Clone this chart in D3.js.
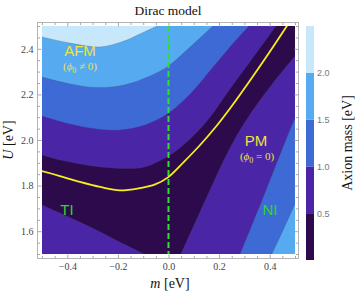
<!DOCTYPE html>
<html><head><meta charset="utf-8">
<script src="https://cdn.jsdelivr.net/npm/d3@7"></script>
<style>body{margin:0;background:#fff}svg{display:block}</style>
</head><body><svg id="c" width="359" height="294"></svg>
<script>
// ---------- data, [m, U] pairs ----------
const levels = [0, 0.5, 1.0, 1.5, 2.0, 2.5];
const bandColors = ["#2c0a4c", "#4a26a6", "#3e6ad6", "#56aaf0", "#c6e8fa"];
const cbTicks = [0.5, 1.0, 1.5, 2.0];
const xMajor = [-0.4, -0.2, 0.0, 0.2, 0.4];
const yMajor = [1.6, 1.8, 2.0, 2.2, 2.4];

// level 2.0 contour (upper left)
const c20Upper = [[-0.5,2.452],[-0.389,2.425],[-0.271,2.408],[-0.176,2.434],[-0.113,2.465],[-0.045,2.5]];
// level 1.5 contours
const c15Upper = [[-0.5,2.276],[-0.389,2.246],[-0.283,2.230],[-0.176,2.241],[-0.073,2.281],[0,2.325],[0.077,2.399],[0.124,2.447],[0.176,2.5]];
const c15Right = [[0.409,1.5],[0.453,1.605],[0.5,1.719]];
// level 1.0 contours
const c10Upper = [[-0.5,2.105],[-0.389,2.070],[-0.283,2.048],[-0.192,2.044],[-0.093,2.066],[0,2.118],[0.093,2.211],[0.176,2.320],[0.243,2.408],[0.318,2.5]];
const c10Right = [[0.283,1.5],[0.370,1.737],[0.464,2.0],[0.5,2.096]];
// level 0.5 contours
const c05Upper = [[-0.5,1.934],[-0.429,1.912],[-0.35,1.895],[-0.271,1.882],[-0.168,1.875],[-0.093,1.882],[0,1.930],[0.077,1.996],[0.152,2.083],[0.235,2.211],[0.330,2.355],[0.425,2.5]];
const c05Lower = [[-0.5,1.715],[-0.35,1.640],[-0.231,1.575],[-0.168,1.539],[-0.097,1.5]];
const c05Right = [[0.049,1.5],[0.164,1.781],[0.219,1.912],[0.271,2.022],[0.334,2.132],[0.413,2.250],[0.5,2.368]];
// phase boundary (yellow)
const phaseLine = [[-0.5,1.864],[-0.429,1.842],[-0.35,1.816],[-0.271,1.794],[-0.192,1.779],[-0.113,1.789],[-0.053,1.805],[-0.002,1.836],[0.061,1.904],[0.125,1.978],[0.188,2.059],[0.251,2.150],[0.314,2.248],[0.393,2.375],[0.472,2.507]];

// ---------- scales ----------
const svg = d3.select('#c');
const x = d3.scaleLinear().domain([-0.5, 0.5]).range([42, 295]);
const y = d3.scaleLinear().domain([1.5, 2.5]).range([254, 26]);
const yc = d3.scaleLinear().domain([0, 2.5]).range([260, 26]);
const [m0, m1] = x.domain(), [u0, u1] = y.domain();

svg.append('rect').attr('width', 359).attr('height', 294).attr('fill', '#fff');

const defs = svg.append('defs');
defs.append('clipPath').attr('id', 'pc').append('rect')
  .attr('x', x(m0)).attr('y', y(u1)).attr('width', x(m1) - x(m0)).attr('height', y(u0) - y(u1));

const plot = svg.append('g').attr('clip-path', 'url(#pc)');
plot.append('rect').attr('x', x(m0)).attr('y', y(u1)).attr('width', x(m1) - x(m0)).attr('height', y(u0) - y(u1))
  .attr('fill', bandColors[0]);

const line = d3.line().x(d => x(d[0])).y(d => y(d[1])).curve(d3.curveCatmullRom.alpha(0.5));

const regions = [
  {pts: c05Upper, corner: [m0, u1], band: 1},
  {pts: c05Lower, corner: [m0, u0], band: 1},
  {pts: c05Right, corner: [m1, u0], band: 1},
  {pts: c10Upper, corner: [m0, u1], band: 2},
  {pts: c10Right, corner: [m1, u0], band: 2},
  {pts: c15Upper, corner: [m0, u1], band: 3},
  {pts: c15Right, corner: [m1, u0], band: 3},
  {pts: c20Upper, corner: [m0, u1], band: 4}
];
regions.forEach(r => {
  plot.append('path')
    .attr('d', line(r.pts) + 'L' + x(r.corner[0]) + ',' + y(r.corner[1]) + 'Z')
    .attr('fill', bandColors[r.band]);
});
regions.forEach(r => {
  plot.append('path').attr('d', line(r.pts)).attr('fill', 'none')
    .attr('stroke', 'rgba(70,70,90,0.35)').attr('stroke-width', 0.7);
});

// m = 0 dashed line
plot.append('line').attr('x1', x(0)).attr('x2', x(0)).attr('y1', y(u1)).attr('y2', y(u0))
  .attr('stroke', '#2ee02e').attr('stroke-width', 2).attr('stroke-dasharray', '6,3');

// phase boundary
plot.append('path').attr('d', line(phaseLine)).attr('fill', 'none')
  .attr('stroke', '#f7ef1c').attr('stroke-width', 1.8);

// ---------- frame & ticks ----------
const fL = 37.5, fR = 298.5, fT = 22.5, fB = 258.5;
svg.append('rect').attr('x', fL).attr('y', fT).attr('width', fR - fL).attr('height', fB - fT)
  .attr('fill', 'none').attr('stroke', '#b4b4b4').attr('stroke-width', 1);

const xMinor = d3.range(-10, 11).map(i => i * 0.05).filter(v => !xMajor.some(M => Math.abs(M - v) < 1e-6));
const yMinor = d3.range(30, 51).map(i => i * 0.05).filter(v => !yMajor.some(M => Math.abs(M - v) < 1e-6));
const fmt = d3.format('.1f');

function styleAxis(g) {
  g.select('.domain').remove();
  g.selectAll('line').attr('stroke', '#a8a8a8');
  g.selectAll('text').attr('font-family', '"Liberation Serif", "Times New Roman", serif')
    .attr('font-size', 10).attr('fill', '#444');
}
function addAxis(axisFn, scale, vals, pos, len, labels) {
  const a = axisFn(scale).tickValues(vals).tickSizeInner(-len).tickSizeOuter(0).tickPadding(4)
    .tickFormat(labels ? fmt : '');
  const g = svg.append('g').attr('transform', pos).call(a);
  styleAxis(g);
}
addAxis(d3.axisBottom, x, xMajor, `translate(0,${fB})`, 4, true);
addAxis(d3.axisBottom, x, xMinor, `translate(0,${fB})`, 2.5, false);
addAxis(d3.axisTop, x, xMajor, `translate(0,${fT})`, 4, false);
addAxis(d3.axisTop, x, xMinor, `translate(0,${fT})`, 2.5, false);
addAxis(d3.axisLeft, y, yMajor, `translate(${fL},0)`, 4, true);
addAxis(d3.axisLeft, y, yMinor, `translate(${fL},0)`, 2.5, false);
addAxis(d3.axisRight, y, yMajor, `translate(${fR},0)`, 4, false);
addAxis(d3.axisRight, y, yMinor, `translate(${fR},0)`, 2.5, false);

// ---------- titles ----------
const serif = '"Liberation Serif", "Times New Roman", serif';
const sans = '"Liberation Sans", Arial, sans-serif';
svg.append('text').attr('x', 168).attr('y', 15).attr('text-anchor', 'middle')
  .attr('font-family', serif).attr('font-size', 13.5).attr('fill', '#111').text('Dirac model');

const xl = svg.append('text').attr('x', 170).attr('y', 288).attr('text-anchor', 'middle')
  .attr('font-family', serif).attr('font-size', 14).attr('fill', '#111');
xl.append('tspan').attr('font-style', 'italic').text('m');
xl.append('tspan').text(' [eV]');

const yl = svg.append('text').attr('transform', 'translate(13,140) rotate(-90)').attr('text-anchor', 'middle')
  .attr('font-family', serif).attr('font-size', 14).attr('fill', '#111');
yl.append('tspan').attr('font-style', 'italic').text('U');
yl.append('tspan').text(' [eV]');

// ---------- colorbar ----------
const cb = svg.append('g');
d3.range(bandColors.length).forEach(i => {
  cb.append('rect').attr('x', 306).attr('width', 8)
    .attr('y', yc(levels[i + 1])).attr('height', yc(levels[i]) - yc(levels[i + 1]))
    .attr('fill', bandColors[i]);
});
const cbAxis = svg.append('g').attr('transform', 'translate(314,0)')
  .call(d3.axisRight(yc).tickValues(cbTicks).tickFormat(fmt).tickSizeInner(0).tickSizeOuter(0).tickPadding(3));
cbAxis.select('.domain').remove();
cbAxis.selectAll('text').attr('font-family', sans).attr('font-size', 9).attr('fill', '#777');

svg.append('text').attr('transform', 'translate(352,143) rotate(-90)').attr('text-anchor', 'middle')
  .attr('font-family', serif).attr('font-size', 14).attr('fill', '#111').text('Axion mass [eV]');

// ---------- annotations ----------
const yellow = '#eee43a', green = '#2ed62e';
function phiLabel(cx, cy, rel) {
  const t = svg.append('text').attr('x', cx).attr('y', cy).attr('text-anchor', 'middle')
    .attr('font-family', serif).attr('font-size', 11).attr('fill', yellow);
  t.append('tspan').text('(');
  t.append('tspan').attr('font-style', 'italic').text('\u03D5');
  t.append('tspan').attr('font-size', 8).attr('dy', 2.5).text('0');
  t.append('tspan').attr('dy', -2.5).text(' ' + rel + ' 0)');
}
svg.append('text').attr('x', 80).attr('y', 56).attr('text-anchor', 'middle')
  .attr('font-family', sans).attr('font-size', 15).attr('fill', yellow).text('AFM');
phiLabel(80, 70, '\u2260');
svg.append('text').attr('x', 256).attr('y', 146).attr('text-anchor', 'middle')
  .attr('font-family', sans).attr('font-size', 15).attr('fill', yellow).text('PM');
phiLabel(257, 160, '=');
svg.append('text').attr('x', 67).attr('y', 215).attr('text-anchor', 'middle')
  .attr('font-family', sans).attr('font-size', 15).attr('fill', green).text('TI');
svg.append('text').attr('x', 270).attr('y', 215).attr('text-anchor', 'middle')
  .attr('font-family', sans).attr('font-size', 15).attr('fill', green).text('NI');
</script></body></html>
